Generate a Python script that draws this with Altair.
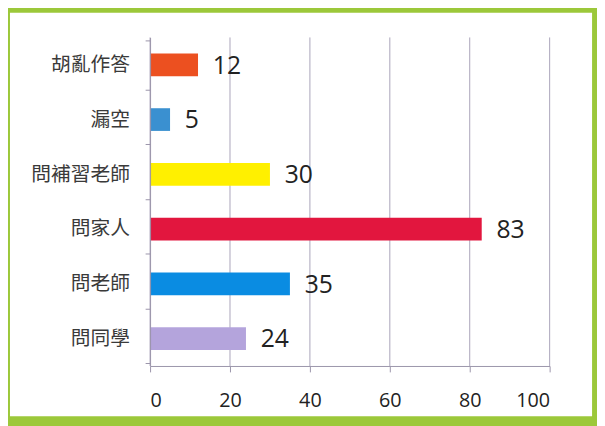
import altair as alt
import pandas as pd

categories = ["胡亂作答", "漏空", "問補習老師", "問家人", "問老師", "問同學"]
values = [12, 5, 30, 83, 35, 24]
colors = ["#ec5020", "#3a90d0", "#fff000", "#e2163e", "#0a8ce2", "#b4a4dc"]
x_ticks = [0, 20, 40, 60, 80, 100]

df = pd.DataFrame({"cat": categories, "val": values, "color": colors})
ticks_df = pd.DataFrame({"t": x_ticks})

W, H = 405, 333
AX = "#9a94aa"

bg = alt.Chart(pd.DataFrame({"a": [0]})).mark_rect(color="white").encode(
    x=alt.value(-142), x2=alt.value(448), y=alt.value(-25), y2=alt.value(384)
)

xscale = alt.Scale(domain=[0, 100], nice=False)
x_axis = alt.Axis(
    values=x_ticks, tickSize=6, tickColor=AX, domainColor=AX,
    grid=False, labelFont="Open Sans", labelFontSize=20,
    labelColor="#222222", labelPadding=19, zindex=2,
)

grid = alt.Chart(ticks_df).mark_rule(color="#aaa4ba", strokeWidth=1).encode(
    x=alt.X("t:Q", scale=xscale, axis=x_axis, title=None)
)

y_enc = alt.Y(
    "cat:N", sort=categories, title=None,
    axis=alt.Axis(
        tickBand="extent", tickSize=5, tickColor=AX, domainColor=AX,
        labelFont="Noto Sans CJK TC", labelFontSize=20, labelColor="#3a3a3a",
        labelPadding=16, grid=False, zindex=2,
    ),
)

bars = alt.Chart(df).mark_bar(size=23).encode(
    x=alt.X("val:Q", scale=xscale, axis=x_axis, title=None),
    y=y_enc,
    color=alt.Color("color:N", scale=None, legend=None),
)
labels = alt.Chart(df).mark_text(
    align="left", baseline="middle", dx=15, dy=1, fontSize=25, font="Open Sans", color="#222222"
).encode(
    x=alt.X("val:Q", scale=xscale, axis=x_axis, title=None),
    y=alt.Y("cat:N", sort=categories),
    text="val:Q",
)

chart = alt.layer(bg, grid, bars, labels).properties(
    width=W, height=H,
    autosize=alt.AutoSizeParams(type="none"),
    padding={"left": 144, "top": 27, "right": 48, "bottom": 58},
    background="#9cc83a",
).configure_view(stroke=None)

chart.save("out.html", embed_options={"renderer": "svg", "actions": False})
